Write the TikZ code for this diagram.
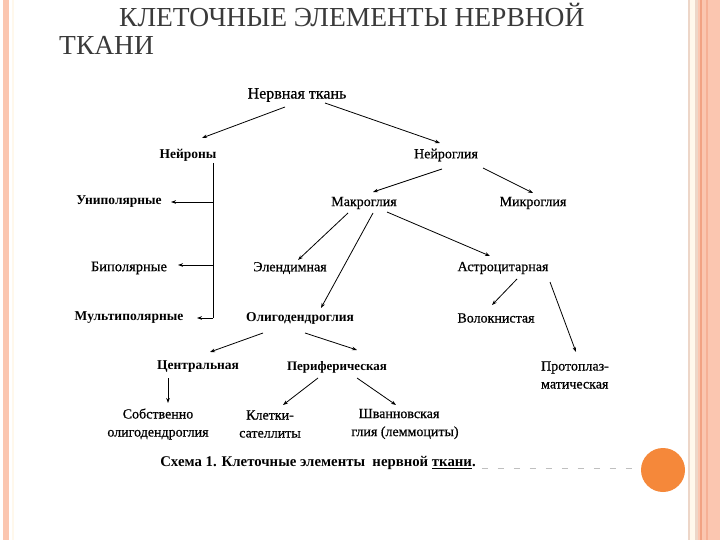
\documentclass[tikz,border=0pt]{standalone}
\usepackage{fontspec}
\setmainfont{Liberation Serif}
\newfontfamily\scanfont[FakeBold=0.6]{Liberation Serif}
\usetikzlibrary{arrows.meta,calc}
\definecolor{salmon}{HTML}{FBC6B0}
\definecolor{salmonline}{HTML}{F2A283}
\definecolor{tanline}{HTML}{EDD6C8}
\definecolor{creamline}{HTML}{FFF8EC}
\definecolor{dot}{HTML}{F5883A}
\definecolor{titlecol}{HTML}{3A3A3A}
\begin{document}
\begin{tikzpicture}[x=1pt,y=-1pt,
  lbl/.style={inner sep=0pt, font=\scanfont\fontsize{14}{18}\selectfont, align=center},
  bl/.style={inner sep=0pt, font=\fontsize{13.5}{18}\selectfont\bfseries, align=center},
  arr/.style={line width=0.8pt, -{Stealth[length=5pt,width=3.6pt]}},
  ln/.style={line width=0.9pt}]
\useasboundingbox (0,0) rectangle (720,540);
\fill[white] (0,0) rectangle (720,540);
% borders
\fill[salmon] (3,0) rectangle (9,540);
\fill[creamline] (12,0) rectangle (14,540);
\fill[tanline] (688,0) rectangle (690,540);
\fill[creamline] (690,0) rectangle (695,540);
\fill[tanline] (695,0) rectangle (698,540);
\fill[salmon] (698,0) rectangle (720,540);
\fill[salmonline] (700,0) rectangle (702,540);
\fill[salmonline!60!salmon] (706,0) rectangle (708,540);
\fill[dot] (663,470) circle (22);
% title
\node[anchor=base west, inner sep=0pt, text=titlecol, font=\fontsize{27.5}{30}\selectfont] (t1) at (119,27) {КЛЕТОЧНЫЕ ЭЛЕМЕНТЫ НЕРВНОЙ};
\node[anchor=base west, inner sep=0pt, text=titlecol, font=\fontsize{27.5}{30}\selectfont] (t2) at (59,55) {ТКАНИ};
% nodes
\node[lbl, font=\scanfont\fontsize{16}{18}\selectfont] (nt) at (297,95) {Нервная ткань};
\node[bl] (neu) at (188,155) {Нейроны};
\node[lbl] (ng) at (446,155) {Нейроглия};
\node[bl] (uni) at (119,202) {Униполярные};
\node[lbl] (mac) at (364,203) {Макроглия};
\node[lbl] (mic) at (533,203) {Микроглия};
\node[lbl, font=\scanfont\fontsize{14.5}{18}\selectfont] (bip) at (129,268) {Биполярные};
\node[lbl] (ep) at (290,268) {Элендимная};
\node[lbl] (as) at (503,268) {Астроцитарная};
\node[bl] (mul) at (129,318) {Мультиполярные};
\node[bl] (ol) at (300,318) {Олигодендроглия};
\node[lbl] (vol) at (496,318) {Волокнистая};
\node[bl] (cen) at (198,367) {Центральная};
\node[bl, font=\fontsize{13}{18}\selectfont\bfseries] (per) at (337,367) {Периферическая};
\node[lbl, align=left] (pro) at (575,375) {Протоплаз-\\матическая};
\node[lbl] (sob) at (158,424) {Собственно\\олигодендроглия};
\node[lbl] (kl) at (270,424) {Клетки-\\сателлиты};
\node[lbl] (shw) at (405,424) {\hspace*{-12pt}Шванновская\\глия (леммоциты)};
\node[inner sep=0pt, font=\fontsize{14.8}{17}\selectfont\bfseries] (cap) at (318,463) {Схема 1. Клеточные элементы\ \ нервной \underline{ткани}.};
\draw[gray!50, line width=0.8pt, dash pattern=on 6pt off 10pt] ($(cap.east)+(6,5)$) -- ++(150,0);
% connectors
\draw[arr] ($(nt)+(-12,12)$) -- ($(neu)+(14,-17)$);
\draw[arr] ($(nt)+(28,8)$) -- ($(ng)+(-6,-12)$);
\coordinate (vb) at (213,318);
\draw[ln] ($(neu)+(25,8)$) -- (vb);
\draw[arr] (uni -| vb) -- ($(uni)+(52,0)$);
\draw[arr] ($(bip -| vb)+(0,-3)$) -- ($(bip)+(49,-3)$);
\draw[arr] (vb) -- ($(mul)+(68,0)$);
\draw[arr] ($(ng)+(-4,14)$) -- ($(mac)+(9,-11)$);
\draw[arr] ($(ng)+(37,13)$) -- ($(mic)+(0,-10)$);
\draw[arr] ($(mac)+(-16,10)$) -- ($(ep)+(8,-8)$);
\draw[arr] ($(mac)+(9,10)$) -- ($(ol)+(21,-10)$);
\draw[arr] ($(mac)+(23,9)$) -- ($(as)+(-13,-12)$);
\draw[arr] ($(as)+(14,11)$) -- ($(vol)+(-4,-13)$);
\draw[arr] ($(as)+(47,14)$) -- ($(pro)+(1,-23)$);
\draw[arr] ($(ol)+(-37,15)$) -- ($(cen)+(12,-15)$);
\draw[arr] ($(ol)+(5,15)$) -- ($(per)+(20,-17)$);
\draw[arr] ($(cen)+(-30,11)$) -- ($(sob)+(10,-21)$);
\draw[arr] ($(per)+(-19,11)$) -- ($(kl)+(13,-19)$);
\draw[arr] ($(per)+(20,11)$) -- ($(shw)+(-9,-19)$);
\end{tikzpicture}
\end{document}
